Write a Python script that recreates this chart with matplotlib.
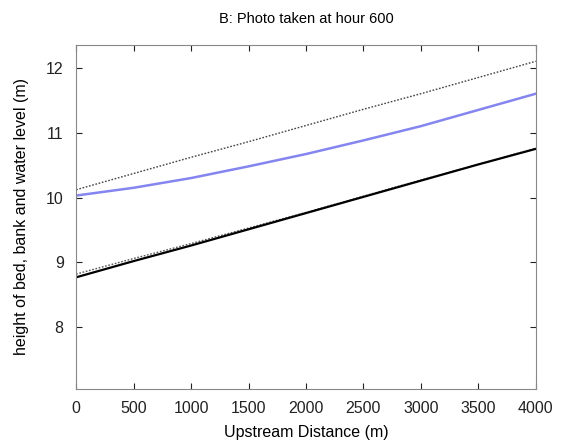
import numpy as np
import matplotlib.pyplot as plt

distance = [0, 500, 1000, 1500, 2000, 2500, 3000, 3500, 4000]
water_level = [10.03, 10.15, 10.30, 10.48, 10.67, 10.88, 11.10, 11.35, 11.60]
bed_level = [8.77, 9.02, 9.26, 9.51, 9.76, 10.01, 10.26, 10.51, 10.75]
bed_initial = [8.82, 9.06, 9.29, 9.53, 9.77, 10.02, 10.27, 10.51, 10.76]
bank_level = [10.12, 10.37, 10.62, 10.86, 11.11, 11.36, 11.60, 11.85, 12.10]

plt.rcParams['font.family'] = ['Liberation Sans', 'DejaVu Sans']

fig = plt.figure(figsize=(5.64, 4.46), dpi=100)
ax = fig.add_axes([0.135, 0.128, 0.815, 0.771])

ax.plot(distance, bank_level, color='#444444', linestyle=(0, (1.2, 1.2)), linewidth=1.0)
ax.plot(distance, water_level, color='#8585f0', linewidth=1.8)
ax.plot(distance, bed_initial, color='#555555', linestyle=(0, (1.2, 1.2)), linewidth=1.0)
ax.plot(distance, bed_level, color='black', linewidth=1.6)

ax.set_xlim(0, 4000)
ax.set_ylim(7.05, 12.35)
ax.set_xticks(np.arange(0, 4001, 500))
ax.set_yticks([8, 9, 10, 11, 12])
ax.tick_params(direction='in', top=True, right=True, length=4, labelsize=11.5,
               colors='#222222', pad=9)
for s in ax.spines.values():
    s.set_color('#888888')

ax.set_xlabel('Upstream Distance (m)', fontsize=11.5, labelpad=6)
ax.set_ylabel('height of bed, bank and water level (m)', fontsize=11.5, labelpad=12)
ax.set_title('B: Photo taken at hour 600', fontsize=10.5, pad=16)

fig.savefig('out.png', dpi=100)
